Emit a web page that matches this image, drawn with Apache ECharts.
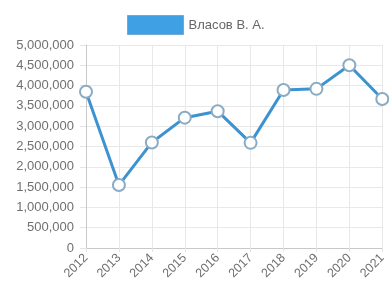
<!DOCTYPE html>
<html>
<head>
<meta charset="utf-8">
<script src="https://cdn.jsdelivr.net/npm/echarts@6/dist/echarts.min.js"></script>
<style>
  html, body { margin: 0; padding: 0; background: #fff; }
  #chart { width: 389px; height: 284px; }
</style>
</head>
<body>
<div id="chart"></div>
<script>
// data
var years = ['2012', '2013', '2014', '2015', '2016', '2017', '2018', '2019', '2020', '2021'];
var seriesName = 'Власов В. А.';
var values = [3850000, 1550000, 2600000, 3210000, 3370000, 2590000, 3890000, 3920000, 4500000, 3670000];
var yTicks = { min: 0, max: 5000000, step: 500000 };

var font = 'Liberation Sans, Arial, sans-serif';

var myChart = echarts.init(document.getElementById('chart'));
var option = {
  animation: false,
  legend: {
    left: 122,
    top: 10,
    itemWidth: 56,
    itemHeight: 19,
    itemGap: 6,
    textStyle: { color: '#666', fontSize: 13, fontFamily: font },
    data: [{
      name: seriesName,
      icon: 'rect',
      itemStyle: { color: '#3fa0e4', borderColor: '#70a9d3', borderWidth: 1 }
    }]
  },
  grid: { left: 86, right: 5, top: 45, bottom: 36, containLabel: false },
  xAxis: {
    type: 'category',
    data: years,
    boundaryGap: false,
    axisLine: { show: true, lineStyle: { color: '#c8c8c8', width: 1 } },
    axisTick: { show: true, length: 4, lineStyle: { color: '#e4e4e4' } },
    splitLine: { show: true, lineStyle: { color: '#e8e8e8' } },
    axisLabel: { rotate: 45, margin: 8, color: '#707070', fontSize: 12.5, fontFamily: font }
  },
  yAxis: {
    type: 'value',
    min: yTicks.min,
    max: yTicks.max,
    interval: yTicks.step,
    axisLine: { show: true, lineStyle: { color: '#c8c8c8', width: 1 } },
    axisTick: { show: true, length: 6, lineStyle: { color: '#e4e4e4' } },
    splitLine: { show: true, lineStyle: { color: '#e8e8e8' } },
    axisLabel: {
      margin: 12,
      color: '#707070',
      fontSize: 13,
      fontFamily: font,
      formatter: function (v) { return v.toLocaleString('en-US'); }
    }
  },
  series: [{
    name: seriesName,
    type: 'line',
    data: values,
    symbol: 'circle',
    symbolSize: 12,
    lineStyle: { color: '#3d93cf', width: 3 },
    itemStyle: { color: '#ffffff', borderColor: '#8aabc4', borderWidth: 2 }
  }]
};
myChart.setOption(option);
</script>
</body>
</html>
